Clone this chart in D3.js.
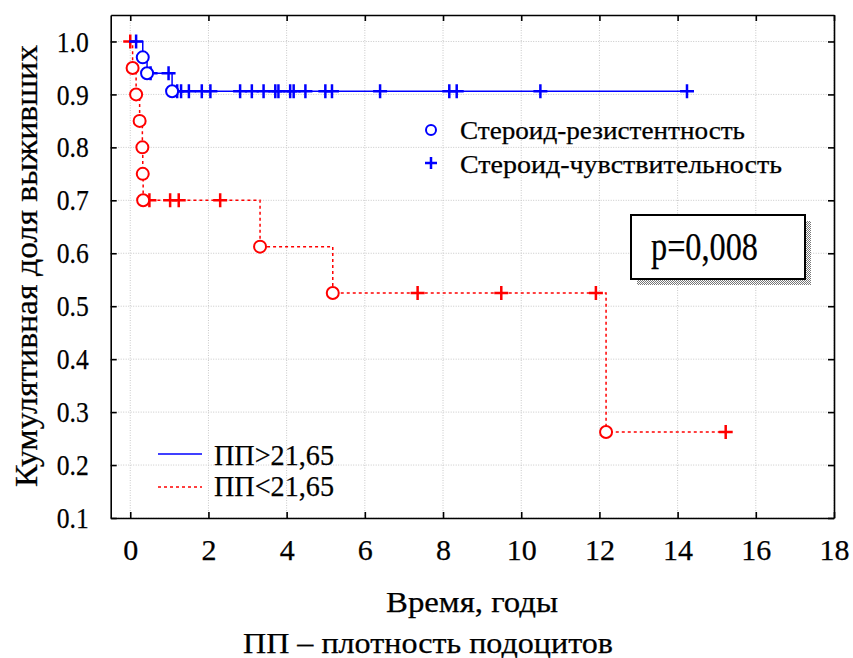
<!DOCTYPE html>
<html>
<head>
<meta charset="utf-8">
<script src="https://cdn.jsdelivr.net/npm/d3@7"></script>
<style>
  body { margin: 0; background: #fff; }
  svg { display: block; }
  svg text { font-family: "Liberation Serif", "Times New Roman", serif; fill: #000; stroke: #000; stroke-width: 0.25; }
  .grid line { stroke: #c8c8c8; stroke-dasharray: 1,1.5; }
  .axis path, .axis line { stroke: #000; stroke-width: 1.6; }
</style>
</head>
<body>
<svg id="chart" width="853" height="658"></svg>
<script>
// ПП>21,65 (blue): events (circles) and censored (crosses)
const blueEventTimes = [0.32, 0.43, 1.07];
const blueEventSurv = [0.970, 0.940, 0.906];
const blueCensorTimes = [0.15, 0.52, 0.98, 1.2, 1.3, 1.5, 1.83, 2.05, 2.81, 3.11, 3.41, 3.71, 3.79,
                         4.09, 4.18, 4.48, 4.99, 5.16, 6.39, 8.16, 8.35, 10.49, 14.24];

// ПП<21,65 (red)
const redEventTimes = [0.06, 0.15, 0.24, 0.31, 0.32, 0.33, 3.32, 5.18, 12.17];
const redEventSurv = [0.95, 0.90, 0.85, 0.80, 0.75, 0.70, 0.6125, 0.525, 0.2625];
const redCensorTimes = [0.0, 0.49, 1.02, 1.24, 2.3, 7.35, 9.49, 11.91, 15.23];

const xTicks = [0, 2, 4, 6, 8, 10, 12, 14, 16, 18];
const yTicks = [0.1, 0.2, 0.3, 0.4, 0.5, 0.6, 0.7, 0.8, 0.9, 1.0];

const legendGroups = ["ПП>21,65", "ПП<21,65"];
const legendMarks = ["Стероид-резистентность", "Стероид-чувствительность"];
const pText = "p=0,008";

let svg = d3.select("#chart");
let plotL = 110.7, plotR = 834, plotT = 15, plotB = 518;

let x = d3.scaleLinear().domain([-0.5, 18]).range([plotL, plotR]);
let y = d3.scaleLinear().domain([0.1, 1.05]).range([plotB, plotT]);

// grid
let grid = svg.append("g").attr("class", "grid");
grid.selectAll("line.v").data(xTicks).enter().append("line")
    .attr("x1", d => x(d)).attr("x2", d => x(d)).attr("y1", plotT).attr("y2", plotB);
grid.selectAll("line.h").data(yTicks).enter().append("line")
    .attr("y1", d => y(d)).attr("y2", d => y(d)).attr("x1", plotL).attr("x2", plotR);

// axes, ticks pointing inward
svg.append("g").attr("class", "axis")
    .attr("transform", `translate(0,${plotB})`)
    .call(d3.axisBottom(x).tickValues(xTicks).tickSize(-6).tickPadding(21).tickSizeOuter(0))
    .selectAll("text").attr("font-size", 30);
svg.append("g").attr("class", "axis")
    .attr("transform", `translate(${plotL},0)`)
    .call(d3.axisLeft(y).tickValues(yTicks).tickFormat(d3.format(".1f")).tickSize(-6).tickPadding(22).tickSizeOuter(0))
    .selectAll("text").attr("font-size", 30)
    .attr("textLength", 32).attr("lengthAdjust", "spacingAndGlyphs");
svg.append("g").attr("class", "axis")
    .attr("transform", `translate(0,${plotT})`)
    .call(d3.axisTop(x).tickValues(xTicks).tickSize(-6).tickFormat("").tickSizeOuter(0));
svg.append("g").attr("class", "axis")
    .attr("transform", `translate(${plotR},0)`)
    .call(d3.axisRight(y).tickValues(yTicks).tickSize(-6).tickFormat("").tickSizeOuter(0));

// Kaplan-Meier steps
function steps(times, surv, endT) {
    let pts = [[0, 1]];
    let prev = 1;
    times.forEach((t, i) => {
        pts.push([t, prev]);
        pts.push([t, surv[i]]);
        prev = surv[i];
    });
    pts.push([endT, prev]);
    return pts;
}
function survAt(times, surv, t) {
    let s = 1;
    times.forEach((et, i) => { if (et <= t) s = surv[i]; });
    return s;
}

let line = d3.line().x(d => x(d[0])).y(d => y(d[1]));
let plus = "M-7,0H7M0,-7V7";

function drawCurve(evT, evS, cenT, color, dash) {
    let endT = Math.max(d3.max(cenT), d3.max(evT));
    let g = svg.append("g");
    g.append("path")
        .attr("d", line(steps(evT, evS, endT)))
        .attr("fill", "none")
        .attr("stroke", color)
        .attr("stroke-width", 1.5)
        .attr("stroke-dasharray", dash);
    g.selectAll("path.cen").data(cenT).enter().append("path")
        .attr("class", "cen")
        .attr("d", plus)
        .attr("transform", d => `translate(${x(d)},${y(survAt(evT, evS, d))})`)
        .attr("stroke", color)
        .attr("stroke-width", 2.5);
    g.selectAll("circle").data(evT).enter().append("circle")
        .attr("cx", d => x(d))
        .attr("cy", (d, i) => y(evS[i]))
        .attr("r", 6)
        .attr("fill", "#fff")
        .attr("stroke", color)
        .attr("stroke-width", 2);
}

drawCurve(redEventTimes, redEventSurv, redCensorTimes, "#ff0000", "3,3");
drawCurve(blueEventTimes, blueEventSurv, blueCensorTimes, "#0000ff", null);

// marker legend
let ml = svg.append("g");
ml.append("circle").attr("cx", 431).attr("cy", 130).attr("r", 5)
    .attr("fill", "#fff").attr("stroke", "#0000ff").attr("stroke-width", 2);
ml.append("path").attr("d", "M-6,0H6M0,-6V6").attr("transform", "translate(431,163)")
    .attr("stroke", "#0000ff").attr("stroke-width", 2.5);
ml.selectAll("text").data(legendMarks).enter().append("text")
    .attr("x", 460).attr("y", (d, i) => 139 + i * 34)
    .attr("font-size", 25)
    .attr("textLength", (d, i) => [285, 322][i])
    .attr("lengthAdjust", "spacingAndGlyphs")
    .text(d => d);

// line legend
let ll = svg.append("g");
ll.append("line").attr("x1", 158).attr("x2", 202).attr("y1", 454).attr("y2", 454)
    .attr("stroke", "#0000ff").attr("stroke-width", 1.5);
ll.append("line").attr("x1", 158).attr("x2", 202).attr("y1", 487).attr("y2", 487)
    .attr("stroke", "#ff0000").attr("stroke-width", 1.5).attr("stroke-dasharray", "3,3");
ll.selectAll("text").data(legendGroups).enter().append("text")
    .attr("x", 214).attr("y", (d, i) => 465 + i * 31)
    .attr("font-size", 30)
    .attr("textLength", 120)
    .attr("lengthAdjust", "spacingAndGlyphs")
    .text(d => d);

// p-value box with checkered shadow
let defs = svg.append("defs");
let pat = defs.append("pattern").attr("id", "chk").attr("width", 2).attr("height", 2)
    .attr("patternUnits", "userSpaceOnUse");
pat.append("rect").attr("width", 2).attr("height", 2).attr("fill", "#fff");
pat.append("rect").attr("width", 1).attr("height", 1).attr("fill", "#777");
pat.append("rect").attr("x", 1).attr("y", 1).attr("width", 1).attr("height", 1).attr("fill", "#777");
svg.append("rect").attr("x", 637).attr("y", 221).attr("width", 174).attr("height", 64)
    .attr("fill", "url(#chk)");
svg.append("rect").attr("x", 631).attr("y", 215).attr("width", 174).attr("height", 64)
    .attr("fill", "#fff").attr("stroke", "#000").attr("stroke-width", 2);
svg.append("text").attr("x", 651).attr("y", 260).attr("font-size", 40)
    .attr("textLength", 107).attr("lengthAdjust", "spacingAndGlyphs").text(pText);

// axis titles
svg.append("text").attr("x", 472).attr("y", 612).attr("text-anchor", "middle")
    .attr("font-size", 29).attr("textLength", 172).attr("lengthAdjust", "spacingAndGlyphs")
    .text("Время, годы");
svg.append("text").attr("x", 428).attr("y", 653).attr("text-anchor", "middle")
    .attr("font-size", 29).attr("textLength", 370).attr("lengthAdjust", "spacingAndGlyphs")
    .text("ПП – плотность подоцитов");
svg.append("text").attr("transform", "translate(37,266) rotate(-90)").attr("text-anchor", "middle")
    .attr("font-size", 31).attr("textLength", 442).attr("lengthAdjust", "spacingAndGlyphs")
    .text("Кумулятивная доля выживших");
</script>
</body>
</html>
